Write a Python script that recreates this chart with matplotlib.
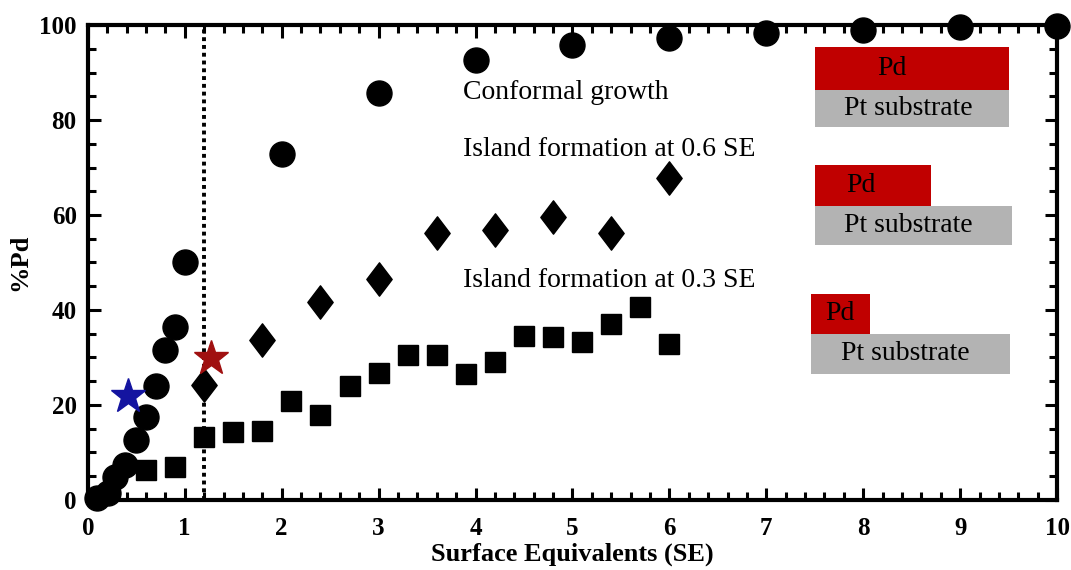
import matplotlib
matplotlib.use("Agg")
import matplotlib.pyplot as plt
from matplotlib.patches import Rectangle
from matplotlib.path import Path
from matplotlib.ticker import MultipleLocator

plt.rcParams['font.family'] = ['Liberation Serif', 'DejaVu Serif']

# conformal growth (circles)
se_conf = [0.09, 0.21, 0.28, 0.38, 0.50, 0.60, 0.70, 0.80, 0.90, 1.0,
           2.0, 3.0, 4.0, 5.0, 6.0, 7.0, 8.0, 9.0, 10.0]
pd_conf = [0.4, 1.5, 4.8, 7.4, 12.6, 17.5, 23.9, 31.6, 36.4, 50.2,
           72.8, 85.7, 92.6, 95.8, 97.3, 98.3, 98.9, 99.6, 99.8]

# island formation at 0.6 SE (diamonds)
se_06 = [1.2, 1.8, 2.4, 3.0, 3.6, 4.2, 4.8, 5.4, 6.0]
pd_06 = [24.2, 33.7, 41.6, 46.6, 56.3, 56.9, 59.5, 56.3, 67.8]

# island formation at 0.3 SE (squares)
se_03 = [0.6, 0.9, 1.2, 1.5, 1.8, 2.1, 2.4, 2.7, 3.0, 3.3, 3.6, 3.9,
         4.2, 4.5, 4.8, 5.1, 5.4, 5.7, 6.0]
pd_03 = [6.3, 6.9, 13.3, 14.3, 14.5, 20.9, 17.9, 24.0, 26.7, 30.5, 30.5, 26.5,
         29.1, 34.5, 34.3, 33.2, 37.1, 40.7, 32.9]

# highlighted points
star_blue = (0.41, 21.9)
star_red = (1.27, 29.9)
vline_se = 1.2

fig = plt.figure(figsize=(10.71, 5.70), dpi=100)
ax = fig.add_axes([0.082, 0.123, 0.905, 0.833])

ax.axvline(vline_se, color='black', ls=(0, (1, 1)), lw=2.8, zorder=1)

diamond = Path([(0, 1), (0.76, 0), (0, -1), (-0.76, 0), (0, 1)],
               [Path.MOVETO, Path.LINETO, Path.LINETO, Path.LINETO, Path.CLOSEPOLY])

ax.plot(se_conf, pd_conf, 'o', color='black', ms=18, clip_on=False, zorder=3)
ax.plot(se_06, pd_06, marker=diamond, ls='none', color='black', ms=24, zorder=3)
ax.plot(se_03, pd_03, 's', color='black', ms=14, zorder=3)
ax.plot(*star_blue, '*', color='#1414a0', ms=26, zorder=4)
ax.plot(*star_red, '*', color='#a01010', ms=26, zorder=4)

tfs = 20
ax.text(3.87, 85.9, 'Conformal growth', fontsize=tfs, va='center')
ax.text(3.87, 73.7, 'Island formation at 0.6 SE', fontsize=tfs, va='center')
ax.text(3.87, 46.3, 'Island formation at 0.3 SE', fontsize=tfs, va='center')

# schematic boxes
red = '#c00000'
gray = '#b3b3b3'
boxes = [  # (x0, red width, gray width, red top, mid, gray bottom, Pd label x)
    (7.5, 2.0, 2.0, 95.4, 86.3, 78.5, 8.3),
    (7.5, 1.2, 2.03, 70.6, 61.8, 53.6, 7.98),
    (7.46, 0.61, 2.05, 43.4, 35.0, 26.5, 7.76),
]
for x0, wr, wg, top, mid, bot, px in boxes:
    ax.add_patch(Rectangle((x0, mid), wr, top - mid, color=red, lw=0, zorder=2))
    ax.add_patch(Rectangle((x0, bot), wg, mid - bot, color=gray, lw=0, zorder=2))
    ax.text(px, (top + mid) / 2, 'Pd', fontsize=tfs, ha='center', va='center', zorder=5)
    ax.text(x0 + 0.97, (mid + bot) / 2, 'Pt substrate', fontsize=tfs,
            ha='center', va='center', zorder=5)

ax.set_xlim(0, 10)
ax.set_ylim(0, 100)
ax.xaxis.set_major_locator(MultipleLocator(1))
ax.xaxis.set_minor_locator(MultipleLocator(0.2))
ax.yaxis.set_major_locator(MultipleLocator(20))
ax.yaxis.set_minor_locator(MultipleLocator(5))
ax.tick_params(which='both', direction='in', top=True, right=True, width=2.2)
ax.tick_params(which='major', length=9, labelsize=18, pad=8)
ax.tick_params(axis='x', which='major', pad=12)
ax.tick_params(which='minor', length=5.5)
for lab in ax.get_xticklabels() + ax.get_yticklabels():
    lab.set_fontweight('bold')
for sp in ax.spines.values():
    sp.set_linewidth(3)

ax.set_xlabel('Surface Equivalents (SE)', fontsize=19, fontweight='bold', labelpad=2)
ax.set_ylabel('%Pd', fontsize=19, fontweight='bold', labelpad=6)

fig.savefig('out.png', dpi=100)
